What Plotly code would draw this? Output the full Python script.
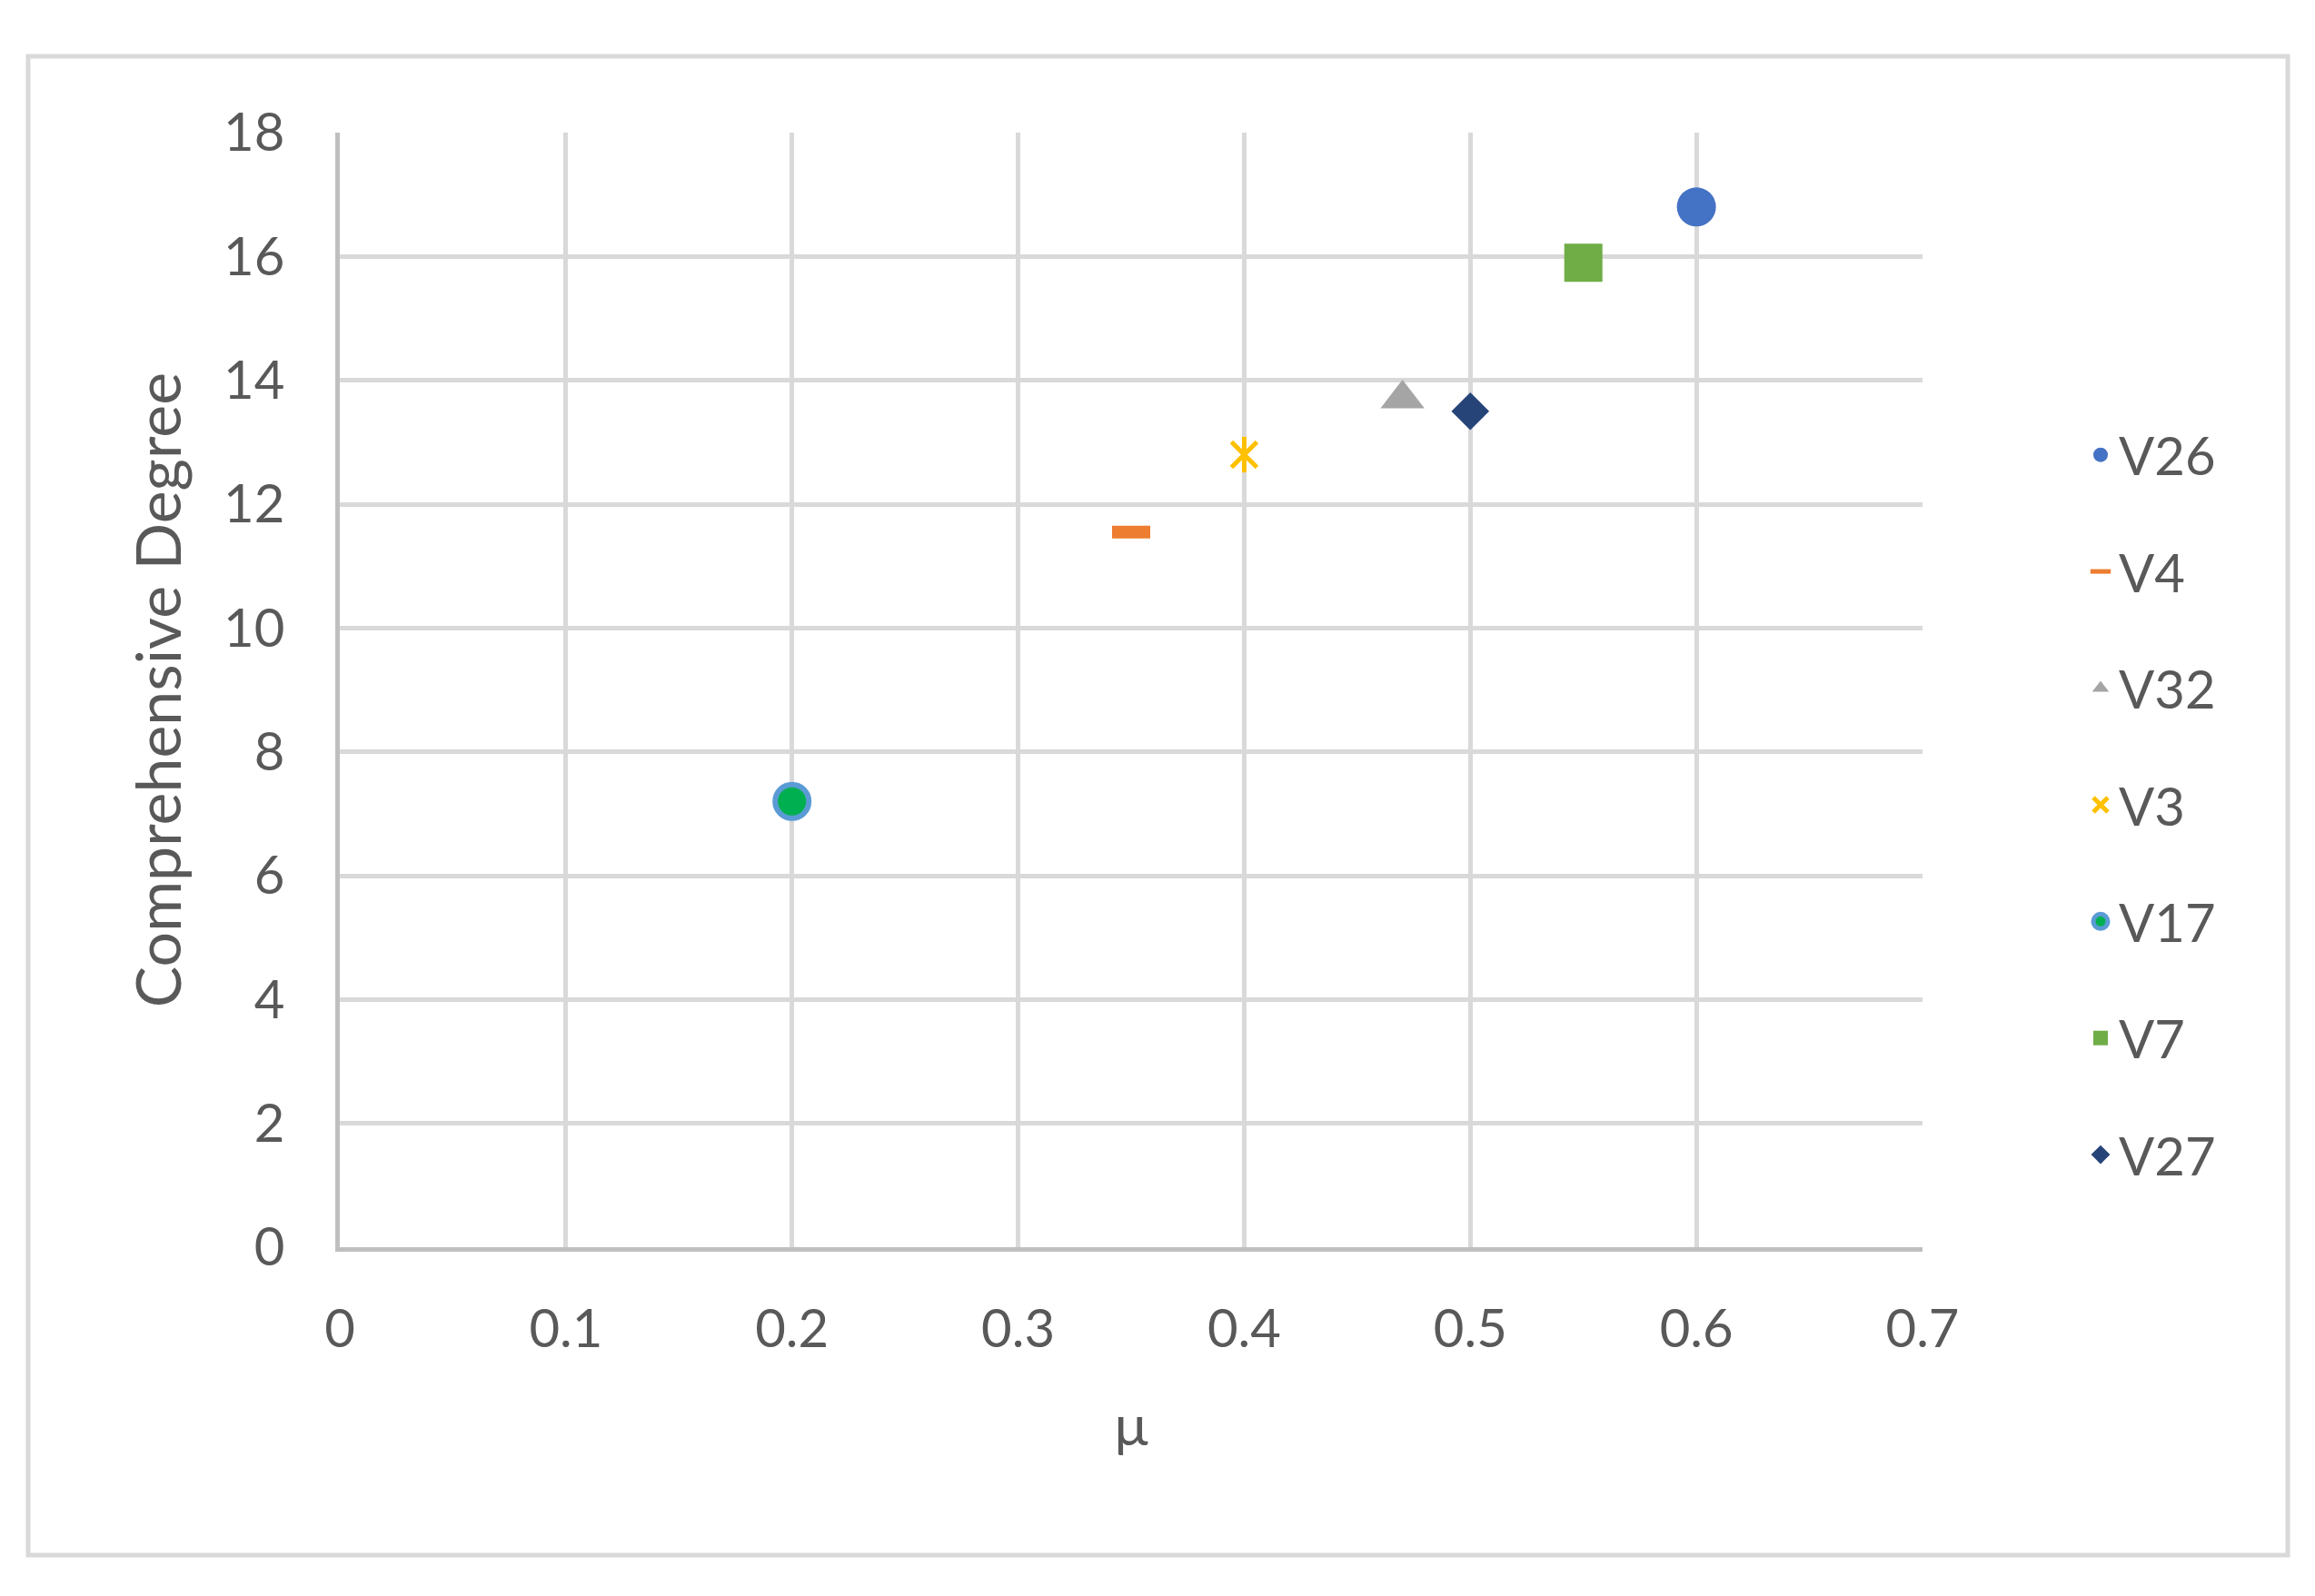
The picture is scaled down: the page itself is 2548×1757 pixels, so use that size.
import plotly.graph_objects as go

# ---- data ----
series_names = ["V26", "V4", "V32", "V3", "V17", "V7", "V27"]
mu_values = [0.60, 0.35, 0.47, 0.40, 0.20, 0.55, 0.50]
degree_values = [16.8, 11.55, 13.7, 12.8, 7.2, 15.9, 13.5]
x_ticks = [0, 0.1, 0.2, 0.3, 0.4, 0.5, 0.6, 0.7]
x_tick_labels = ["0", "0.1", "0.2", "0.3", "0.4", "0.5", "0.6", "0.7"]
y_ticks = [0, 2, 4, 6, 8, 10, 12, 14, 16, 18]

# ---- styles ----
styles = {
    "V26": dict(symbol="circle", size=43, color="#4472C4", line=dict(width=0)),
    "V4": dict(symbol="line-ew-open", size=30, color="#ED7D31", line=dict(width=14, color="#ED7D31")),
    "V32": dict(symbol="triangle-up", size=42, color="#A5A5A5", line=dict(width=0)),
    "V3": dict(symbol="x-thin-open", size=28, color="#FFC000", line=dict(width=5, color="#FFC000")),
    "V17": dict(symbol="circle", size=37, color="#00B050", line=dict(width=6, color="#5B9BD5")),
    "V7": dict(symbol="square", size=42, color="#70AD47", line=dict(width=0)),
    "V27": dict(symbol="diamond", size=32, color="#264478", line=dict(width=0)),
}

FONT = "Lato, 'Open Sans', sans-serif"
GREY_TXT = "#595959"

fig = go.Figure()
for name, xv, yv in zip(series_names, mu_values, degree_values):
    fig.add_trace(go.Scatter(
        x=[xv], y=[yv], mode="markers", name=name, legendgroup=name,
        marker=styles[name], hoverinfo="x+y+name",
    ))
    if name == "V3":
        fig.add_trace(go.Scatter(
            x=[xv], y=[yv], mode="markers", name=name, legendgroup=name,
            showlegend=False,
            marker=dict(symbol="line-ns-open", size=28, color="#FFC000",
                        line=dict(width=5, color="#FFC000")),
            hoverinfo="skip",
        ))

# page body has an 8px margin; figure coords are page coords minus 8
OFF = 8
W, H = 2532, 1741
L, R, T, B = 374 - OFF, 2116 - OFF, 146 - OFF, 1373 - OFF
pw, ph = R - L, B - T

fig.update_layout(
    width=W, height=H,
    margin=dict(l=L, r=W - R, t=T, b=H - B, autoexpand=False),
    paper_bgcolor="white", plot_bgcolor="white",
    font=dict(family=FONT, size=58, color=GREY_TXT),
    showlegend=True,
    legend=dict(
        x=(2292 - OFF - L) / pw, xanchor="left",
        y=(B - (886 - OFF)) / ph, yanchor="middle",
        font=dict(size=58, color=GREY_TXT),
        tracegroupgap=50, itemsizing="trace", valign="middle",
        bgcolor="rgba(0,0,0,0)",
    ),
    xaxis=dict(
        range=[0, 0.7], tickvals=x_ticks, ticktext=x_tick_labels,
        showgrid=True, gridcolor="#D9D9D9", gridwidth=5,
        showline=True, linecolor="#BFBFBF", linewidth=5,
        zeroline=False, ticks="", ticklabelstandoff=35,
        tickfont=dict(size=58, color=GREY_TXT),
        title=dict(text="μ", font=dict(size=62, color=GREY_TXT), standoff=56),
        automargin=False,
    ),
    yaxis=dict(
        range=[0, 18], tickvals=y_ticks,
        showgrid=True, gridcolor="#D9D9D9", gridwidth=5,
        showline=True, linecolor="#BFBFBF", linewidth=5,
        zeroline=False, ticks="", ticklabelstandoff=44,
        tickfont=dict(size=58, color=GREY_TXT),
        title=dict(text="Comprehensive Degree", font=dict(size=68, color=GREY_TXT), standoff=26),
        automargin=False,
    ),
    shapes=[dict(
        type="rect", xref="paper", yref="paper",
        x0=(31 - OFF - L) / pw, x1=(2518 - OFF - L) / pw,
        y0=(B - (1712 - OFF)) / ph, y1=(B - (62 - OFF)) / ph,
        line=dict(color="#D9D9D9", width=5), fillcolor="rgba(0,0,0,0)", layer="below",
    )],
)

fig.write_html("out.html")
